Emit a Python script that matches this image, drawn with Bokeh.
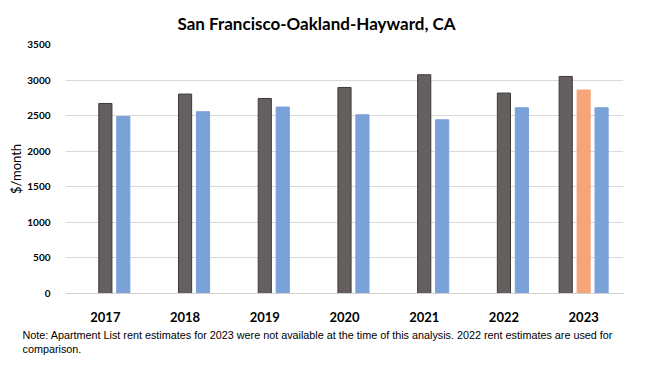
from bokeh.plotting import figure
from bokeh.models import ColumnDataSource, Title, FactorRange, NumeralTickFormatter
from bokeh.transform import dodge
from bokeh.embed import file_html
from bokeh.resources import INLINE

years = ["2017", "2018", "2019", "2020", "2021", "2022", "2023"]
# first slot (only 2023), middle slot (gray until 2022, orange in 2023), last slot (blue)
first_vals = [None, None, None, None, None, None, 3051]
middle_vals = [2671, 2803, 2741, 2896, 3075, 2817, 2860]
middle_colors = ["#65605f"] * 6 + ["#f6a57b"]
middle_lines = ["#3e3a39"] * 6 + ["#f6a57b"]
blue_vals = [2488, 2555, 2621, 2512, 2442, 2611, 2611]
y_ticks = [0, 500, 1000, 1500, 2000, 2500, 3000, 3500]
title_text = "San Francisco-Oakland-Hayward, CA"
note_1 = ("Note: Apartment List rent estimates for 2023 were not available at the time of "
          "this analysis. 2022 rent estimates are used for")
note_2 = "comparison."

W, H = 634, 357
p = figure(x_range=FactorRange(*years), y_range=(0, 3500), width=W, height=H,
           output_backend="svg", toolbar_location=None,
           min_border_left=65, min_border_right=11, min_border_top=44, min_border_bottom=64)
p.outline_line_color = None
p.background_fill_color = "white"
p.border_fill_color = "white"

src_first = ColumnDataSource(dict(x=[y for y, v in zip(years, first_vals) if v is not None],
                                  top=[v for v in first_vals if v is not None]))
src_mid = ColumnDataSource(dict(x=years, top=middle_vals, fill=middle_colors, line=middle_lines))
src_blue = ColumnDataSource(dict(x=years, top=blue_vals))

bw = 0.165
p.vbar(x=dodge("x", -0.225, range=p.x_range), top="top", width=bw, source=src_first,
       fill_color="#65605f", line_color="#3e3a39", line_width=1)
p.vbar(x=dodge("x", 0.0, range=p.x_range), top="top", width=bw, source=src_mid,
       fill_color="fill", line_color="line", line_width=1)
p.vbar(x=dodge("x", 0.225, range=p.x_range), top="top", width=bw, source=src_blue,
       fill_color="#7ba1d9", line_color="#7ba1d9", line_width=1)

p.xgrid.grid_line_color = None
p.ygrid.grid_line_color = "#d9d9d9"
p.ygrid.grid_line_width = 1
p.yaxis.ticker = y_ticks
p.yaxis.formatter = NumeralTickFormatter(format="0")
p.yaxis.axis_line_color = None
p.yaxis.major_tick_line_color = None
p.yaxis.minor_tick_line_color = None
p.yaxis.major_label_text_font = "Lato"
p.yaxis.major_label_text_font_style = "bold"
p.yaxis.major_label_text_font_size = "10px"
p.yaxis.major_label_text_color = "#000000"
p.yaxis.major_label_standoff = 9
p.yaxis.axis_label = "$/month"
p.yaxis.axis_label_text_font = "Lato"
p.yaxis.axis_label_text_font_style = "normal"
p.yaxis.axis_label_text_font_size = "13px"
p.yaxis.axis_label_text_color = "#000000"
p.yaxis.axis_label_standoff = 0

p.xaxis.axis_line_color = "#d0d0d0"
p.xaxis.major_tick_line_color = None
p.xaxis.minor_tick_line_color = None
p.xaxis.major_label_text_font = "Lato"
p.xaxis.major_label_text_font_style = "bold"
p.xaxis.major_label_text_font_size = "13px"
p.xaxis.major_label_text_color = "#000000"
p.xaxis.major_label_standoff = 12

p.title.text = title_text
p.title.align = "left"
p.title.offset = 112
p.title.standoff = 18
p.title.vertical_align = "top"
p.title.text_font = "Lato"
p.title.text_font_style = "bold"
p.title.text_font_size = "17px"
p.title.text_color = "#000000"

p.add_layout(Title(text=note_1 + "\n" + note_2, align="left", offset=-43, standoff=5,
                   text_font="Liberation Sans", text_font_style="normal",
                   text_font_size="10.8px", text_line_height=1.2, text_color="#000000"),
             "below")

open("out.html", "w").write(file_html(p, INLINE))
